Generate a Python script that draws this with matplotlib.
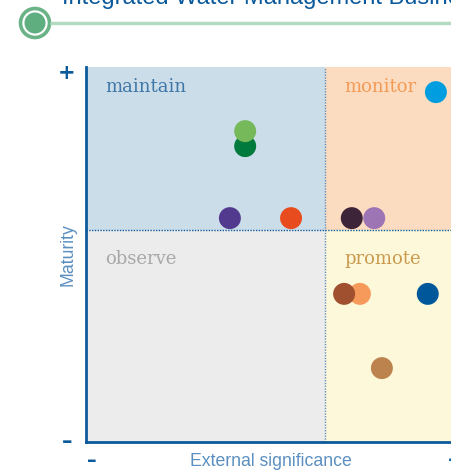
import matplotlib.pyplot as plt
from matplotlib.patches import Rectangle, Circle

# position data (0-100 scale on both axes)
names = ["a", "b", "c", "d", "e", "f", "g", "h", "i", "j", "k"]
sig = [73.2, 33.3, 33.3, 30.1, 42.9, 55.6, 60.3, 57.3, 54.0, 71.5, 61.9]
mat = [93.3, 78.9, 82.9, 59.7, 59.7, 59.7, 59.7, 39.5, 39.5, 39.5, 19.7]
colors = ["#009ee0", "#007a3d", "#75b95a", "#523a8f", "#e84c1e",
          "#3d2438", "#9d75b4", "#f59a5a", "#a0502e", "#00579a", "#bc834f"]

x_mid = 50.0
y_mid = 56.5
quad_names = ["maintain", "monitor", "observe", "promote"]
quad_bg = ["#cbdde9", "#fcdcc0", "#ececec", "#fdf8da"]
quad_fg = ["#3f76a8", "#f39a55", "#a8a8a8", "#c99a4e"]

blue = "#0b5a9c"
light_blue = "#5b8fc0"

fig = plt.figure(figsize=(4.51, 4.70), dpi=100)

# header decoration
deco = fig.add_axes([0, 0, 1, 1], zorder=-1)
deco.set_xlim(0, 451)
deco.set_ylim(470, 0)
deco.axis("off")
deco.plot([50, 451], [23, 23], color="#b3dbc2", lw=2.5, solid_capstyle="butt")
deco.add_patch(Circle((35, 23), 14.5, facecolor="white", edgecolor="#6ab387", lw=2.6))
deco.add_patch(Circle((35, 23), 10.5, facecolor="#5fae80", edgecolor="none"))
fig.text(62 / 451, 1 - 4 / 470, "Integrated Water Management Business",
         color=blue, fontsize=17, family="Liberation Sans", va="baseline")

ax = fig.add_axes([86 / 451, 28 / 470, 478 / 451, 375 / 470])
ax.set_xlim(0, 100)
ax.set_ylim(0, 100)

# quadrants
boxes = [(0, y_mid, x_mid, 100 - y_mid), (x_mid, y_mid, 100 - x_mid, 100 - y_mid),
         (0, 0, x_mid, y_mid), (x_mid, 0, 100 - x_mid, y_mid)]
label_pos = [(4.0, 94.7), (54.0, 94.7), (4.0, 48.8), (54.0, 48.8)]
for (bx, by, bw, bh), bg, fg, name, (lx, ly) in zip(boxes, quad_bg, quad_fg, quad_names, label_pos):
    ax.add_patch(Rectangle((bx, by), bw, bh, facecolor=bg, edgecolor="none", zorder=0))
    ax.text(lx, ly, name, color=fg, fontsize=13, family="DejaVu Serif",
            fontweight="medium", va="center", ha="left", zorder=1)

ax.axvline(x_mid, color=light_blue, lw=1, ls=(0, (1, 1)), zorder=1)
ax.axhline(y_mid, color=blue, lw=1, ls=(0, (1, 1)), zorder=1)

for x, y, c in zip(sig, mat, colors):
    ax.scatter(x, y, s=250, color=c, edgecolors="none", zorder=3)

for side in ["top", "right"]:
    ax.spines[side].set_visible(False)
for side in ["left", "bottom"]:
    ax.spines[side].set_color(blue)
    ax.spines[side].set_linewidth(2)
ax.set_xticks([])
ax.set_yticks([])

# axis labels and end markers
fig.text(271 / 451, 1 - 462 / 470, "External significance", color=light_blue,
         fontsize=12.7, family="Liberation Sans", ha="center", va="center")
fig.text(68 / 451, 1 - 255 / 470, "Maturity", color=light_blue, rotation=90,
         fontsize=12.7, family="Liberation Sans", ha="center", va="center")
fig.text(67 / 451, 1 - 73 / 470, "+", color=blue, fontsize=15, fontweight="bold",
         ha="center", va="center")
fig.text(67 / 451, 1 - 442 / 470, "–", color=blue, fontsize=15, fontweight="bold",
         ha="center", va="center")
fig.text(92 / 451, 1 - 461 / 470, "–", color=blue, fontsize=14, fontweight="bold",
         ha="center", va="center")
fig.text(455 / 451, 1 - 461 / 470, "+", color=blue, fontsize=14, fontweight="bold",
         ha="center", va="center")

fig.savefig("out.png", dpi=100)
